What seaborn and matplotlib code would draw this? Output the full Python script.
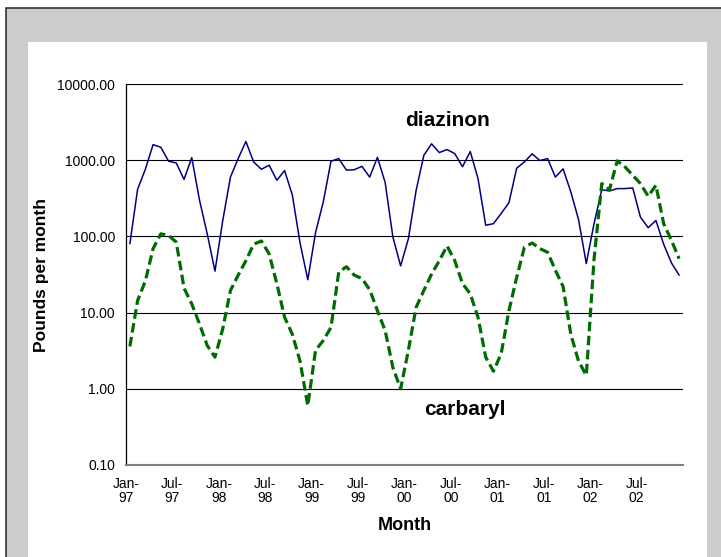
import numpy as np
import pandas as pd
import matplotlib
matplotlib.use("Agg")
import matplotlib.pyplot as plt
import seaborn as sns
from matplotlib.patches import Rectangle
from matplotlib.ticker import FixedLocator, FuncFormatter, NullLocator

# ------------------ Data: monthly pounds, Jan-97 .. Dec-02 ------------------
diazinon = [80, 415, 760, 1600, 1480, 970, 920, 560, 1080, 300, 108, 35,
            160, 600, 1050, 1760, 950, 760, 860, 545, 730, 350, 82, 27,
            112, 283, 970, 1050, 740, 750, 830, 600, 1090, 510, 98, 41,
            93, 400, 1160, 1640, 1260, 1380, 1220, 820, 1300, 575, 140, 147,
            200, 277, 785, 950, 1210, 990, 1050, 600, 770, 383, 166, 44,
            147, 410, 395, 424, 424, 433, 179, 130, 162, 79, 45, 31]

carbaryl = [3.6, 14.4, 26, 69, 108, 103, 84, 21, 13, 7.1, 3.7, 2.6,
            6.1, 19.5, 31, 48, 79, 87, 59, 24, 8.7, 5.2, 2.3, 0.6,
            3.2, 4.3, 6.4, 34, 40, 31, 28, 20, 10.6, 5.8, 1.9, 1.0,
            3.2, 11.7, 19.5, 32, 48, 75, 48, 24, 17.6, 8.7, 2.6, 1.7,
            2.9, 10.6, 29, 72, 82, 69, 62, 36, 22, 5.2, 2.3, 1.5,
            50, 493, 411, 980, 817, 635, 493, 336, 469, 147, 89, 51]

years = ["97", "98", "99", "00", "01", "02"]
tick_labels = []
for yr in years:
    tick_labels += [f"Jan-\n{yr}", f"Jul-\n{yr}"]

y_ticks = [0.1, 1, 10, 100, 1000, 10000]

# points sit in the middle of each month category
month_pos = np.arange(len(diazinon)) + 0.5
df = pd.DataFrame({"month": month_pos, "diazinon": diazinon, "carbaryl": carbaryl})

# ------------------ Style ------------------
sns.set_style("white")
plt.rcParams["font.family"] = ["Liberation Sans", "DejaVu Sans"]
plt.rcParams["text.color"] = "black"
plt.rcParams["axes.labelcolor"] = "black"
plt.rcParams["xtick.color"] = "black"
plt.rcParams["ytick.color"] = "black"

W, H = 721, 557
fig = plt.figure(figsize=(W / 100, H / 100), dpi=100)
fig.patch.set_facecolor("white")

# grey chart frame and white chart area
fig.patches.append(Rectangle((6 / W, -0.1), 1.1, 1.1 - 8 / H, transform=fig.transFigure,
                             facecolor="#cccccc", edgecolor="#333333", lw=1.2, zorder=-3))
fig.patches.append(Rectangle((28 / W, -0.1), (707 - 28) / W, 0.1 + (H - 42) / H,
                             transform=fig.transFigure, facecolor="white",
                             edgecolor="none", zorder=-2))

ax = fig.add_axes([126 / W, (H - 465) / H, (683 - 126) / W, (465 - 84) / H])
ax.set_facecolor("none")

sns.lineplot(data=df, x="month", y="diazinon", ax=ax, color="#000080", lw=1.1)
sns.lineplot(data=df, x="month", y="carbaryl", ax=ax, color="#006b00", lw=2.3,
             linestyle=(0, (3.0, 1.4)))

ax.set_yscale("log")
ax.set_ylim(0.1, 10000)
ax.set_xlim(0, 72)
ax.yaxis.set_major_locator(FixedLocator(y_ticks))
ax.yaxis.set_minor_locator(NullLocator())
ax.yaxis.set_major_formatter(FuncFormatter(lambda v, p: f"{v:.2f}"))
ax.yaxis.grid(True, color="black", lw=0.8)
ax.set_axisbelow(True)

ax.set_xticks(range(0, 73, 6))
ax.set_xticklabels(tick_labels + [""], fontsize=10, linespacing=1.0)
ax.tick_params(axis="x", direction="out", length=3.5, width=0.8, pad=5)
ax.tick_params(axis="y", direction="out", length=4, width=0.8, pad=4, labelsize=10)

for side in ["top", "right"]:
    ax.spines[side].set_visible(False)
ax.spines["left"].set_color("black")
ax.spines["left"].set_linewidth(0.9)
ax.spines["bottom"].set_color("#808080")
ax.spines["bottom"].set_linewidth(1.5)

ax.set_xlabel("Month", fontsize=13, fontweight="bold")
ax.xaxis.set_label_coords(0.5, -0.137)
ax.set_ylabel("Pounds per month", fontsize=12.5, fontweight="bold")
ax.yaxis.set_label_coords(-0.138, 0.5)

# series labels
ax.text(41.5, 3300, "diazinon", fontsize=15, fontweight="bold", ha="center", va="center")
ax.text(43.8, 0.53, "carbaryl", fontsize=15, fontweight="bold", ha="center", va="center")

plt.savefig("out.png", dpi=100)
plt.close()
